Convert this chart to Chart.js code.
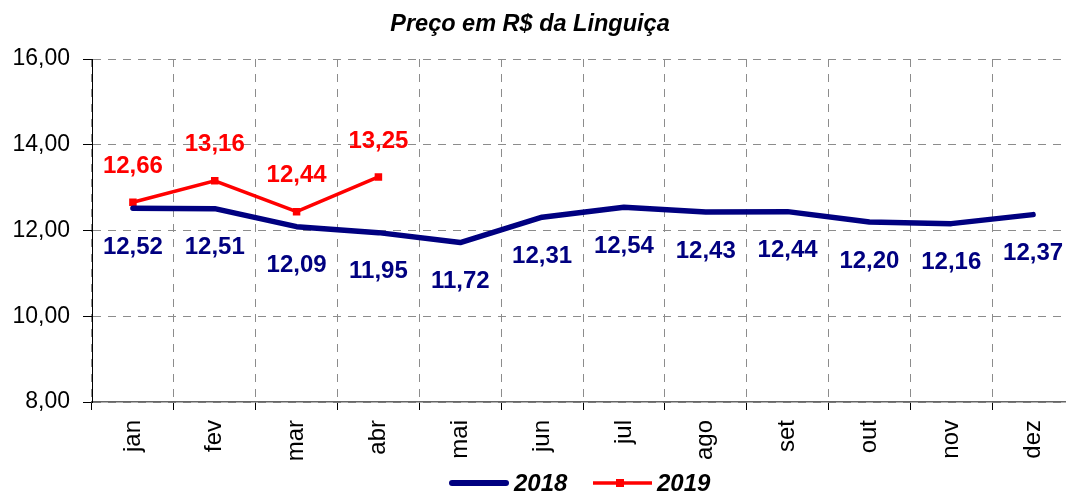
<!DOCTYPE html>
<html>
<head>
<meta charset="utf-8">
<script src="https://cdn.jsdelivr.net/npm/chart.js@4/dist/chart.umd.min.js"></script>
<style>
  html, body { margin: 0; padding: 0; background: #fff; overflow: hidden; }
  #wrap { width: 1066px; height: 494px; overflow: hidden; }
  canvas { display: block; }
</style>
</head>
<body>
<div id="wrap"><canvas id="c" width="1080" height="494"></canvas></div>
<script>
const months = ['jan','fev','mar','abr','mai','jun','jul','ago','set','out','nov','dez'];
const values2018 = [12.52, 12.51, 12.09, 11.95, 11.72, 12.31, 12.54, 12.43, 12.44, 12.20, 12.16, 12.37];
const values2019 = [12.66, 13.16, 12.44, 13.25];
const seriesNames = ['2018', '2019'];
const chartTitle = 'Preço em R$ da Linguiça';
const yMin = 8, yMax = 16, yStep = 2;

const FONT = '"Liberation Sans", Arial, sans-serif';
const BLUE = '#000080';
const RED = '#FF0000';
const fmt = v => v.toFixed(2).replace('.', ',');

const labelPlugin = {
  id: 'extras',
  afterDatasetsDraw(chart) {
    const ctx = chart.ctx;
    ctx.save();
    ctx.font = 'bold 24px ' + FONT;
    ctx.textAlign = 'center';
    ctx.textBaseline = 'middle';
    chart.data.datasets.forEach((ds, i) => {
      const meta = chart.getDatasetMeta(i);
      ctx.fillStyle = ds.borderColor;
      meta.data.forEach((pt, j) => {
        const v = ds.data[j];
        if (v == null) return;
        const dy = i === 0 ? 39 : -36;
        ctx.fillText(fmt(v), pt.x, pt.y + dy);
      });
    });
    ctx.restore();
  },
  afterDraw(chart) {
    const ctx = chart.ctx;
    ctx.save();
    // title
    ctx.font = 'italic bold 23.5px ' + FONT;
    ctx.fillStyle = '#000';
    ctx.textAlign = 'center';
    ctx.textBaseline = 'alphabetic';
    ctx.fillText(chartTitle, 530, 31);
    // legend
    const ly = 483;
    ctx.lineWidth = 6;
    ctx.strokeStyle = BLUE;
    ctx.lineCap = 'round';
    ctx.beginPath(); ctx.moveTo(452, ly); ctx.lineTo(506, ly); ctx.stroke();
    ctx.lineCap = 'butt';
    ctx.lineWidth = 3.5;
    ctx.strokeStyle = RED;
    ctx.beginPath(); ctx.moveTo(593, ly); ctx.lineTo(652, ly); ctx.stroke();
    ctx.fillStyle = RED;
    ctx.fillRect(616, ly - 4, 8, 8);
    ctx.font = 'italic bold 24px ' + FONT;
    ctx.fillStyle = '#000';
    ctx.textAlign = 'left';
    ctx.textBaseline = 'middle';
    ctx.fillText(seriesNames[0], 514, ly + 1);
    ctx.fillText(seriesNames[1], 657, ly + 1);
    ctx.restore();
  }
};

new Chart(document.getElementById('c'), {
  type: 'line',
  data: {
    labels: months,
    datasets: [
      {
        label: seriesNames[0],
        data: values2018,
        borderColor: BLUE,
        backgroundColor: BLUE,
        borderWidth: 5.5,
        pointRadius: 0,
        tension: 0,
        borderJoinStyle: 'round',
        borderCapStyle: 'round'
      },
      {
        label: seriesNames[1],
        data: values2019,
        borderColor: RED,
        backgroundColor: RED,
        borderWidth: 3.5,
        pointStyle: 'rect',
        pointRadius: 5.3,
        pointBorderWidth: 0,
        tension: 0
      }
    ]
  },
  options: {
    responsive: false,
    animation: false,
    devicePixelRatio: 1,
    layout: { padding: { top: 59, right: 6, left: 0, bottom: 0 } },
    plugins: {
      legend: { display: false },
      title: { display: false },
      tooltip: { enabled: false }
    },
    scales: {
      x: {
        type: 'category',
        offset: true,
        grid: {
          offset: true,
          color: '#8c8c8c',
          lineWidth: 1,
          tickColor: '#000',
          tickLength: 8,
          drawTicks: true
        },
        border: { display: true, color: '#666', width: 1.5, dash: [8, 7] },
        ticks: {
          color: '#000',
          font: { family: FONT, size: 24 },
          minRotation: 90,
          maxRotation: 90,
          padding: 10,
          autoSkip: false
        },
        afterFit(scale) { scale.height = 92; }
      },
      y: {
        min: yMin,
        max: yMax,
        grid: {
          color: '#8c8c8c',
          lineWidth: 1,
          tickColor: '#000',
          tickLength: 9
        },
        border: { display: true, color: '#000', width: 1, dash: [8, 7] },
        ticks: {
          stepSize: yStep,
          color: '#000',
          font: { family: FONT, size: 23 },
          padding: 13,
          callback: v => fmt(v)
        },
        afterFit(scale) { scale.width = 92; }
      }
    }
  },
  plugins: [labelPlugin]
});
</script>
</body>
</html>
